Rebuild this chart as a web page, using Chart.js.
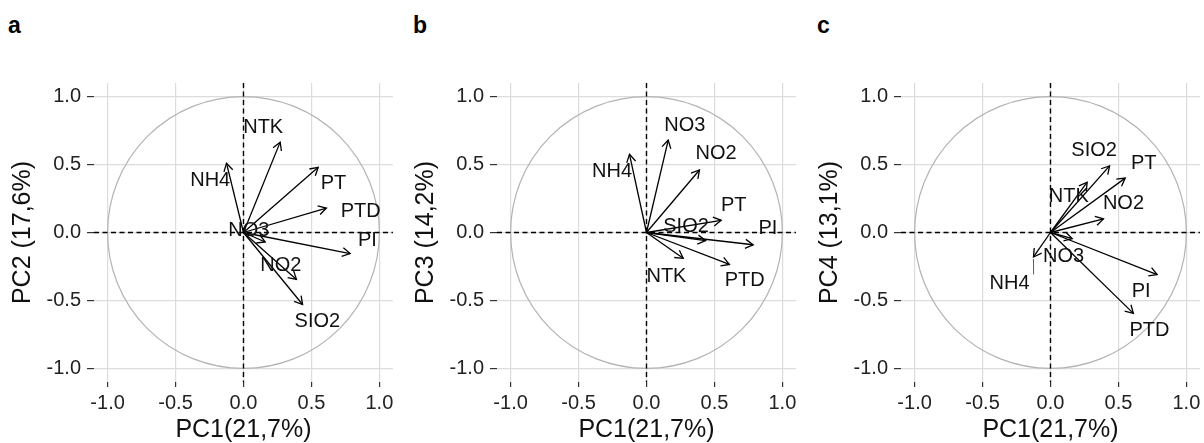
<!DOCTYPE html>
<html>
<head>
<meta charset="utf-8">
<script src="https://cdn.jsdelivr.net/npm/chart.js@4.4.1/dist/chart.umd.min.js"></script>
<style>
  body { margin: 0; background: #fff; width: 1204px; height: 443px; overflow: hidden; position: relative;
         font-family: "Liberation Sans", Arial, sans-serif; }
  .box { position: absolute; top: 0; width: 398px; height: 443px; }
  .tag { position: absolute; top: 13px; font-weight: bold; font-size: 23px; line-height: 24px; color: #000; }
</style>
</head>
<body>
<div class="tag" style="left:8px">a</div>
<div class="tag" style="left:413px">b</div>
<div class="tag" style="left:817px">c</div>
<div class="box" style="left:0px"><canvas id="pcaA"></canvas></div>
<div class="box" style="left:403px"><canvas id="pcaB"></canvas></div>
<div class="box" style="left:807px"><canvas id="pcaC"></canvas></div>
<script>
// loadings, same variable order everywhere
var variables = ['NTK', 'NH4', 'PT', 'PTD', 'PI', 'NO2', 'SIO2', 'NO3'];
var pc1 = [0.27, -0.125, 0.55, 0.61, 0.785, 0.39, 0.435, 0.16];
var pc2 = [0.665, 0.51, 0.48, 0.18, -0.155, -0.345, -0.53, -0.07];
var pc3 = [-0.19, 0.575, 0.09, -0.235, -0.09, 0.46, -0.06, 0.68];
var pc4 = [0.37, -0.18, 0.40, -0.595, -0.31, 0.10, 0.49, -0.045];

// where the (repelled) text labels sit, in loading units
var labXA = [0.145, -0.245, 0.662, 0.863, 0.912, 0.275, 0.544, 0.04];
var labYA = [0.776, 0.385, 0.36, 0.152, -0.057, -0.24, -0.657, 0.017];
var labXB = [0.147, -0.253, 0.642, 0.723, 0.894, 0.512, 0.291, 0.282];
var labYB = [-0.326, 0.446, 0.201, -0.356, 0.03, 0.581, 0.041, 0.789];
var labXC = [0.135, -0.301, 0.686, 0.728, 0.667, 0.537, 0.321, 0.096];
var labYC = [0.262, -0.375, 0.507, -0.718, -0.437, 0.213, 0.605, -0.179];

var tickValues = [-1, -0.5, 0, 0.5, 1];
var xTitle = 'PC1(21,7%)';
var yTitles = ['PC2 (17,6%)', 'PC3 (14,2%)', 'PC4 (13,1%)'];

var FONT = '"Liberation Sans", Arial, sans-serif';

var biplotPlugin = {
  id: 'biplot',
  beforeDatasetsDraw: function (chart) {
    var ctx = chart.ctx, area = chart.chartArea;
    var xs = chart.scales.x, ys = chart.scales.y;
    var cx = xs.getPixelForValue(0), cy = ys.getPixelForValue(0);
    var rx = xs.getPixelForValue(1) - cx, ry = cy - ys.getPixelForValue(1);
    ctx.save();
    ctx.strokeStyle = '#b3b3b3';
    ctx.lineWidth = 1.2;
    ctx.beginPath();
    ctx.ellipse(cx, cy, rx, ry, 0, 0, Math.PI * 2);
    ctx.stroke();
    ctx.strokeStyle = '#000';
    ctx.lineWidth = 1.4;
    ctx.setLineDash([5, 3.5]);
    ctx.beginPath();
    ctx.moveTo(area.left, cy); ctx.lineTo(area.right, cy);
    ctx.moveTo(cx, area.top); ctx.lineTo(cx, area.bottom);
    ctx.stroke();
    ctx.restore();
  },
  afterDatasetsDraw: function (chart, args, opts) {
    var ctx = chart.ctx;
    var xs = chart.scales.x, ys = chart.scales.y;
    ctx.save();
    ctx.strokeStyle = '#000';
    ctx.lineWidth = 1.3;
    chart.data.datasets.forEach(function (ds, i) {
      var pts = chart.getDatasetMeta(i).data;
      var p0 = pts[0], p1 = pts[1];
      var ang = Math.atan2(p1.y - p0.y, p1.x - p0.x);
      var L = 9, a = Math.PI / 6;
      ctx.beginPath();
      ctx.moveTo(p1.x - L * Math.cos(ang - a), p1.y - L * Math.sin(ang - a));
      ctx.lineTo(p1.x, p1.y);
      ctx.lineTo(p1.x - L * Math.cos(ang + a), p1.y - L * Math.sin(ang + a));
      ctx.stroke();
    });

    ctx.font = '20px ' + FONT;
    ctx.fillStyle = '#111';
    ctx.textAlign = 'center';
    ctx.textBaseline = 'middle';
    var links = opts.links || [];
    for (var i = 0; i < variables.length; i++) {
      var tx = xs.getPixelForValue(opts.labX[i]);
      var ty = ys.getPixelForValue(opts.labY[i]);
      if (links.indexOf(variables[i]) >= 0) {
        // thin leader from label to the arrow tip
        var w = ctx.measureText(variables[i]).width;
        var tip = chart.getDatasetMeta(i).data[1];
        ctx.save();
        ctx.strokeStyle = '#333';
        ctx.lineWidth = 0.8;
        ctx.beginPath();
        ctx.moveTo(tx + w / 2 + 4, ty - 9);
        ctx.lineTo(tip.x, tip.y + 2);
        ctx.stroke();
        ctx.restore();
      }
      ctx.fillText(variables[i], tx, ty);
    }
    ctx.restore();
  }
};

function axis(title, isX) {
  return {
    type: 'linear',
    min: -1.1,
    max: 1.1,
    afterBuildTicks: function (scale) {
      scale.ticks = tickValues.map(function (v) { return { value: v }; });
    },
    afterFit: function (scale) {
      if (isX) { scale.height = 61; } else { scale.width = 94; }
    },
    grid: {
      color: '#dcdcdc',
      lineWidth: 1.2,
      drawTicks: true,
      tickLength: isX ? 5 : 7,
      tickColor: '#333',
      tickWidth: 1.2
    },
    border: { display: false },
    ticks: {
      color: '#222',
      padding: isX ? 4.5 : 6,
      font: { family: FONT, size: 20 },
      callback: function (v) { return Number(v).toFixed(1); }
    },
    title: {
      display: true,
      text: title,
      color: '#111',
      font: { family: FONT, size: 25, lineHeight: isX ? 1 : 1.2 },
      padding: isX ? { top: 0, bottom: 0 } : { top: 8, bottom: 0 }
    }
  };
}

function makeBiplot(id, yVals, yTitle, labX, labY, links) {
  var datasets = variables.map(function (name, i) {
    return {
      label: name,
      data: [{ x: 0, y: 0 }, { x: pc1[i], y: yVals[i] }],
      showLine: true,
      borderColor: '#000',
      borderWidth: 1.3,
      pointRadius: 0,
      pointHoverRadius: 0
    };
  });
  new Chart(document.getElementById(id), {
    type: 'scatter',
    data: { datasets: datasets },
    options: {
      responsive: true,
      maintainAspectRatio: false,
      animation: false,
      layout: { padding: { top: 83, right: 5, left: 0, bottom: 0 } },
      plugins: {
        legend: { display: false },
        tooltip: { enabled: false },
        biplot: { labX: labX, labY: labY, links: links }
      },
      scales: {
        x: axis(xTitle, true),
        y: axis(yTitle, false)
      }
    },
    plugins: [biplotPlugin]
  });
}

makeBiplot('pcaA', pc2, yTitles[0], labXA, labYA, []);
makeBiplot('pcaB', pc3, yTitles[1], labXB, labYB, []);
makeBiplot('pcaC', pc4, yTitles[2], labXC, labYC, ['NH4']);
</script>
</body>
</html>
